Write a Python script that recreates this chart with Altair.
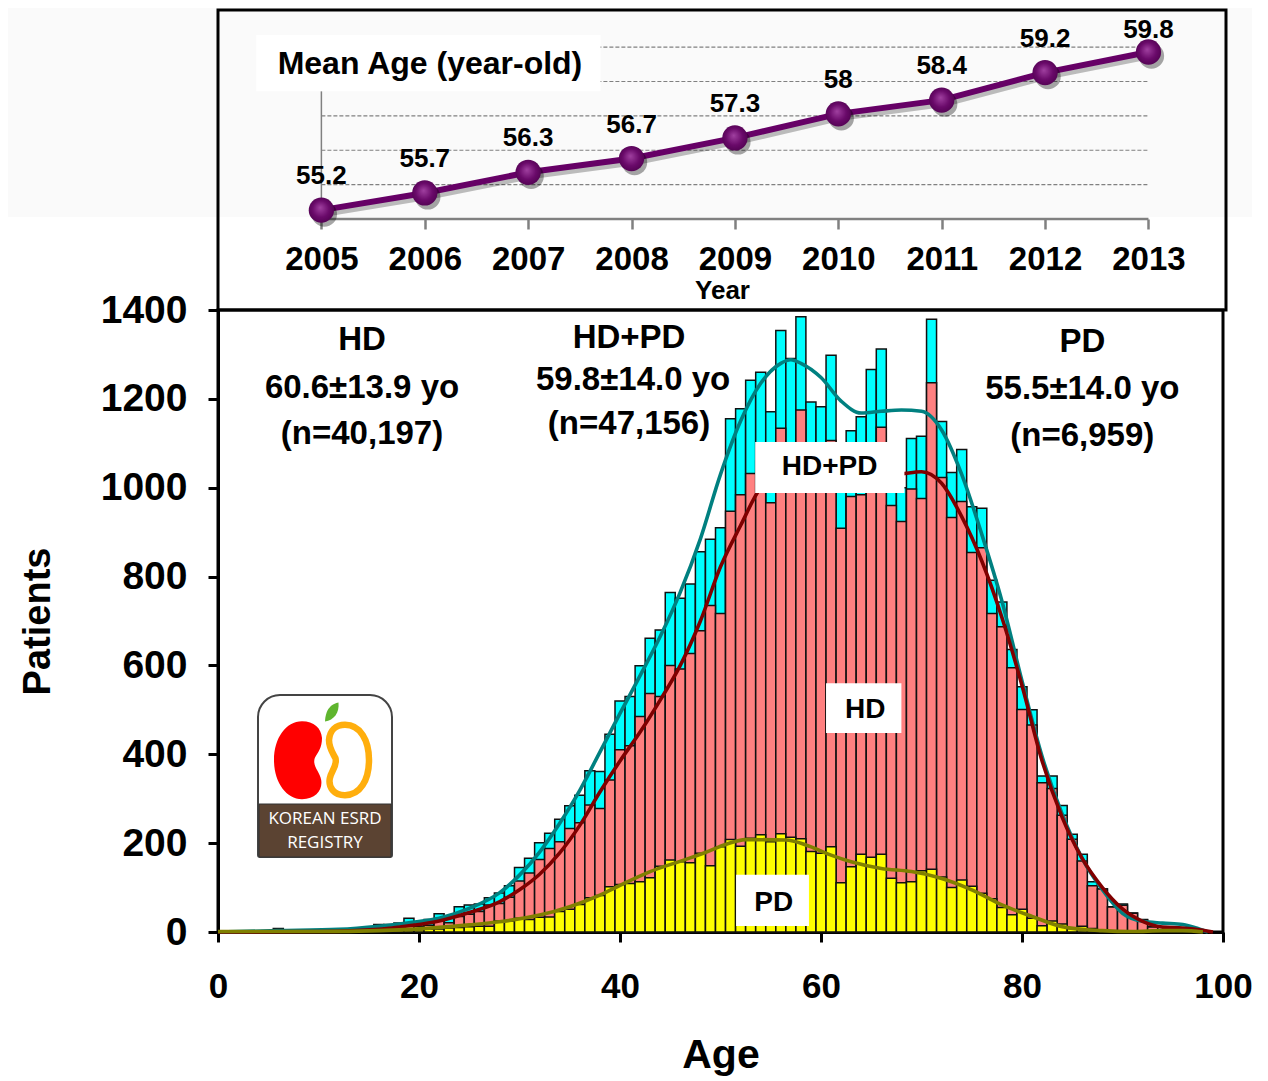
import altair as alt
import pandas as pd

FONT = "Liberation Sans"

# ---------- inset: mean age by year ----------
years = [2005, 2006, 2007, 2008, 2009, 2010, 2011, 2012, 2013]
mean_age = [55.2, 55.7, 56.3, 56.7, 57.3, 58.0, 58.4, 59.2, 59.8]
mean_age_labels = ["55.2", "55.7", "56.3", "56.7", "57.3", "58", "58.4", "59.2", "59.8"]
grid_levels = [56, 57, 58, 59, 60]

# ---------- main: patients by age ----------
ages = list(range(1, 99))
total = [1,1,1,1,1,8,1,2,2,3,4,5,6,8,10,17,17,20,31,23,28,41,36,57,61,63,77,88,104,145,
         166,201,222,254,284,308,363,361,445,520,530,599,661,680,764,751,783,856,884,910,
         1155,1178,1242,1260,1171,1354,1291,1385,1193,1182,1298,1050,1128,1160,1266,1312,1060,1000,1111,1116,
         1379,1149,1034,1086,957,954,792,743,636,552,500,351,351,285,220,175,113,97,57,63,
         43,28,12,5,4,3,2,1]
hd = [0,0,0,0,0,3,0,1,1,1,2,2,3,4,5,8,9,10,15,13,15,24,21,35,40,46,61,64,78,115,
      133,163,188,203,233,246,286,278,342,410,419,485,537,530,600,592,627,678,735,717,
      947,984,1032,1060,966,1134,1080,1175,1090,1080,1106,909,980,984,1050,1136,960,924,997,976,
      1236,1023,933,969,854,865,717,687,595,501,466,336,323,263,209,160,104,97,56,60,
      42,27,11,4,3,2,1,1]
pd_counts = [0,0,0,0,0,1,0,0,0,0,1,1,2,2,2,3,3,4,5,5,6,7,9,10,12,13,13,25,25,31,
             28,33,34,46,51,62,77,82,102,107,109,113,122,148,162,158,156,177,149,192,
             208,193,211,219,203,221,213,210,181,177,192,111,147,175,168,175,121,111,113,138,
             141,124,100,117,103,87,75,55,39,51,31,14,25,18,8,13,8,4,3,2,
             1,1,1,1,1,1,0,0]

teal_age = [0,6,12,16,19,22,25,28,30,32,34,36,38,40,42,44,46,48,50,52,54,56,57,58,60,62,64,66,68,70,72,74,76,78,80,82,84,86,88,90,92,94,96,97.5,98.5]
teal_val = [0,3,6,13,21,31,53,88,128,180,245,319,405,492,577,665,765,885,1030,1150,1235,1280,1288,1280,1248,1195,1168,1172,1175,1172,1130,1030,895,745,565,395,265,165,95,42,24,20,17,8,0]
red_age = [0,10,16,19,22,25,28,30,32,34,36,38,40,42,44,46,48,50,52,54,56,60,64,68,70,72,74,76,78,80,82,84,86,88,90,92,94,96,98,99]
red_val = [0,1,6,14,25,44,68,95,130,178,240,315,385,450,522,600,700,822,915,1000,1030,1030,1025,1031,1036,1010,935,835,708,555,385,258,165,100,52,24,11,9,4,0]
olive_age = [0,10,16,20,25,28,32,35,38,40,43,46.5,48.5,50.5,52.5,56.5,58.5,61,63,66,69,71.5,75,78,81,84,88,91,94,96,98]
olive_val = [1,1,3,7,16,23,38,57,83,105,136,163,179,197,208,207,196,173,158,143,136,124,95,61,35,12,3,1,3,3,0]

x_ticks = [0, 20, 40, 60, 80, 100]
y_ticks = [0, 200, 400, 600, 800, 1000, 1200, 1400]

note_rows = [
    ("HD", 14.33, 1332), ("60.6±13.9 yo", 14.33, 1224), ("(n=40,197)", 14.33, 1121),
    ("HD+PD", 40.9, 1337), ("59.8±14.0 yo", 41.3, 1242), ("(n=47,156)", 40.9, 1143),
    ("PD", 86.0, 1328), ("55.5±14.0 yo", 86.0, 1222), ("(n=6,959)", 86.0, 1116),
]
box_rows = [
    ("HD+PD", 53.45, 68.3, 988, 1103, 60.85, 1046),
    ("HD", 60.5, 68.0, 448, 560, 64.4, 500),
    ("PD", 51.55, 58.8, 13.5, 129, 55.3, 65),
]

# ---------- inset chart ----------
sx_in = alt.Scale(domain=[2004.0, 2013.75], nice=False, zero=False)
sy_in = alt.Scale(domain=[55.0, 61.08], nice=False, zero=False)
axis_in = alt.Axis(values=years, format="d", domain=False, grid=False, tickColor="#808080",
                   tickWidth=2.5, tickSize=10, labelFontSize=33, labelFont=FONT, labelFontWeight="bold",
                   labelColor="black", labelPadding=14, title="Year", titleFont=FONT, titleFontSize=26,
                   titleFontWeight="bold", titleColor="black", titlePadding=1, labelOverlap=False)

def xi(f):
    return alt.X(f, type="quantitative", scale=sx_in, axis=axis_in)
def yi(f):
    return alt.Y(f, type="quantitative", scale=sy_in, axis=None)

df_in = pd.DataFrame({"year": years, "age": mean_age, "label": mean_age_labels})
df_grid = pd.DataFrame({"x0": [years[0]] * 5, "x1": [years[-1]] * 5, "level": grid_levels})
df_base = pd.DataFrame({"x0": [years[0]], "x1": [years[-1]], "level": [55.0], "top": [58.72]})
df_one = pd.DataFrame({"k": [1]})

band = alt.Chart(df_one).mark_rect(color="#fafafa").encode(
    x=alt.value(-210), x2=alt.value(1034), y=alt.value(-2), y2=alt.value(207))
grid = alt.Chart(df_grid).mark_rule(color="#808080", strokeWidth=1.2, strokeDash=[4, 2]).encode(
    x=xi("x0"), x2="x1", y=yi("level"))
baseline = alt.Chart(df_base).mark_rule(color="#808080", strokeWidth=2.5).encode(
    x=xi("x0"), x2="x1", y=yi("level"))
vaxis = alt.Chart(df_base).mark_rule(color="#808080", strokeWidth=1.5).encode(
    x=xi("x0"), y=yi("level"), y2="top")
line_sh = alt.Chart(df_in).mark_line(color="#000000", opacity=0.25, strokeWidth=6, xOffset=2, yOffset=2).encode(
    x=xi("year"), y=yi("age"))
line_in = alt.Chart(df_in).mark_line(color="#660066", strokeWidth=6, yOffset=-2).encode(x=xi("year"), y=yi("age"))
ball_sh = alt.Chart(df_in).mark_circle(color="#000000", opacity=0.35, size=640, xOffset=3, yOffset=2).encode(
    x=xi("year"), y=yi("age"))
ball_grad = alt.RadialGradient(gradient="radial", r1=0, r2=0.6, x1=0.45, y1=0.4, x2=0.5, y2=0.5,
                               stops=[alt.GradientStop(color="#a040a0", offset=0),
                                      alt.GradientStop(color="#6a0a6a", offset=0.55),
                                      alt.GradientStop(color="#4c004c", offset=1)])
balls = alt.Chart(df_in).mark_point(filled=True, fill=ball_grad, fillOpacity=1, size=640, strokeWidth=0, shape="circle", yOffset=-2).encode(
    x=xi("year"), y=yi("age"))
val_txt = alt.Chart(df_in[df_in.year < 2013]).mark_text(font=FONT, fontSize=26, fontWeight="bold", color="black", dy=-36).encode(
    x=xi("year"), y=yi("age"), text="label:N")
val_last = alt.Chart(df_in[df_in.year == 2013]).mark_text(font=FONT, fontSize=26, fontWeight="bold", color="black", dy=-24).encode(
    x=xi("year"), y=yi("age"), text="label:N")
title_df = pd.DataFrame({"x0": [2004.37], "x1": [2007.70], "y0": [58.72], "y1": [60.35],
                         "xc": [2006.05], "yc": [59.5], "t": ["Mean Age (year-old)"]})
title_box = alt.Chart(title_df).mark_rect(color="white").encode(x=xi("x0"), x2="x1", y=yi("y0"), y2="y1")
title_txt = alt.Chart(title_df).mark_text(font=FONT, fontSize=32, fontWeight="bold", color="black").encode(
    x=xi("xc"), y=yi("yc"), text="t:N")
frame = alt.Chart(df_one).mark_rect(fillOpacity=0, stroke="black", strokeWidth=3).encode(
    x=alt.value(0), x2=alt.value(1008), y=alt.value(0), y2=alt.value(300))

inset = alt.layer(band, grid, baseline, vaxis, line_sh, line_in, ball_sh, balls, val_txt, val_last,
                  title_box, title_txt, frame).properties(width=1008, height=209, view=alt.ViewConfig(stroke=None))

# ---------- main chart ----------
sx = alt.Scale(domain=[0, 100], nice=False, zero=False, padding=0)
sy = alt.Scale(domain=[0, 1400], nice=False)
axis_x = alt.Axis(values=x_ticks, grid=False, domainWidth=3, domainColor="black", tickColor="black", tickWidth=3,
                  tickSize=10, labelFontSize=35, labelFont=FONT, labelFontWeight="bold", labelColor="black",
                  labelPadding=27, title="Age", titleFont=FONT, titleFontSize=41, titleFontWeight="bold",
                  titleColor="black", titlePadding=31, labelOverlap=False, labelFlush=False)
axis_y = alt.Axis(values=y_ticks, format="d", grid=False, domainWidth=3, domainColor="black", tickColor="black", tickWidth=3,
                  tickSize=10, labelFontSize=39, labelFont=FONT, labelFontWeight="bold", labelColor="black",
                  labelPadding=21, title="Patients", titleFont=FONT, titleFontSize=38, titleFontWeight="bold",
                  titleColor="black", titlePadding=43, labelOverlap=False)

def xm(f):
    return alt.X(f, type="quantitative", scale=sx, axis=axis_x)
def ym(f):
    return alt.Y(f, type="quantitative", scale=sy, axis=axis_y)

df_bar = pd.DataFrame({"age": ages, "total": total, "hd": hd, "pd": pd_counts})

def bars(field, color):
    return alt.Chart(df_bar).mark_bar(size=10, color=color, stroke="#111111", strokeWidth=1.5).encode(
        x=xm("age"), y=ym(field))

def curve(xs, ys, color):
    d = pd.DataFrame({"age": xs, "val": ys})
    return alt.Chart(d).mark_line(color=color, strokeWidth=3.6, interpolate="monotone").encode(
        x=xm("age"), y=ym("val"))

df_notes = pd.DataFrame(note_rows, columns=["t", "age", "val"])
notes = alt.Chart(df_notes).mark_text(font=FONT, fontSize=33, fontWeight="bold", color="black").encode(
    x=xm("age"), y=ym("val"), text="t:N")
df_box = pd.DataFrame(box_rows, columns=["t", "x0", "x1", "y0", "y1", "xc", "yc"])
boxes = alt.Chart(df_box).mark_rect(color="white").encode(x=xm("x0"), x2="x1", y=ym("y0"), y2="y1")
box_txt = alt.Chart(df_box).mark_text(font=FONT, fontSize=28, fontWeight="bold", color="black").encode(
    x=xm("xc"), y=ym("yc"), text="t:N")

# logo drawn from rectangles, symbols and real text
KIDNEY_RED = ("M0.1,-0.97 C-0.3,-0.97 -0.6,-0.55 -0.6,0 C-0.6,0.55 -0.3,0.98 0.1,0.98 "
              "C0.45,0.98 0.62,0.75 0.58,0.5 C0.55,0.3 0.35,0.15 0.42,-0.05 "
              "C0.5,-0.2 0.6,-0.3 0.6,-0.55 C0.58,-0.8 0.4,-0.97 0.1,-0.97 Z")
KIDNEY_ORG = ("M-0.1,-0.88 C0.28,-0.88 0.5,-0.5 0.5,0 C0.5,0.5 0.28,0.88 -0.1,0.88 "
              "C-0.38,0.88 -0.52,0.68 -0.48,0.46 C-0.45,0.28 -0.28,0.14 -0.34,-0.05 "
              "C-0.42,-0.2 -0.5,-0.3 -0.5,-0.5 C-0.48,-0.74 -0.33,-0.88 -0.1,-0.88 Z")
LEAF = "M0.75,-0.95 C0.2,-0.85 -0.55,-0.45 -0.6,0.95 C0.3,0.8 0.85,0.1 0.75,-0.95 Z"

logo_bg = alt.Chart(df_one).mark_rect(fill="white", stroke="#444444", strokeWidth=2, cornerRadiusTopLeft=22,
                                      cornerRadiusTopRight=22, cornerRadiusBottomLeft=2, cornerRadiusBottomRight=2).encode(
    x=alt.value(40), x2=alt.value(174), y=alt.value(385), y2=alt.value(547))
logo_band = alt.Chart(df_one).mark_rect(fill="#5b4332", stroke="#333333", strokeWidth=1).encode(
    x=alt.value(41), x2=alt.value(173), y=alt.value(494), y2=alt.value(547))
logo_k1 = alt.Chart(df_one).mark_point(filled=True, fill="#ff0000", fillOpacity=1, strokeWidth=0, shape=KIDNEY_RED, size=6400).encode(
    x=alt.value(80), y=alt.value(450))
logo_k2 = alt.Chart(df_one).mark_point(filled=False, stroke="#ffae0d", strokeWidth=6.5, shape=KIDNEY_ORG, size=6400, opacity=1).encode(
    x=alt.value(131), y=alt.value(450))
logo_leaf = alt.Chart(df_one).mark_point(filled=True, fill="#5fb52e", fillOpacity=1, strokeWidth=0, shape=LEAF, size=400).encode(
    x=alt.value(113), y=alt.value(402))
logo_df = pd.DataFrame({"t": ["KOREAN ESRD", "REGISTRY"], "yy": [509, 533]})
logo_txt = alt.Chart(logo_df).mark_text(font="Open Sans", fontSize=17, color="white").encode(
    x=alt.value(107), y=alt.Y("yy:Q", scale=None), text="t:N")

main = alt.layer(
    bars("total", "#00ffff"), bars("hd", "#ff8080"), bars("pd", "#ffff00"),
    curve(teal_age, teal_val, "#008080"), curve(red_age, red_val, "#800000"), curve(olive_age, olive_val, "#808000"),
    notes, boxes, box_txt,
    logo_bg, logo_band, logo_k1, logo_k2, logo_leaf, logo_txt,
).properties(width=1005, height=622, view=alt.ViewConfig(stroke="black", strokeWidth=3))

chart = alt.vconcat(inset, main, spacing=91, bounds="flush").properties(
    padding={"left": 0, "top": 0, "right": 0, "bottom": 0}
)

chart.save("out.html", embed_options={"renderer": "svg", "actions": False})
